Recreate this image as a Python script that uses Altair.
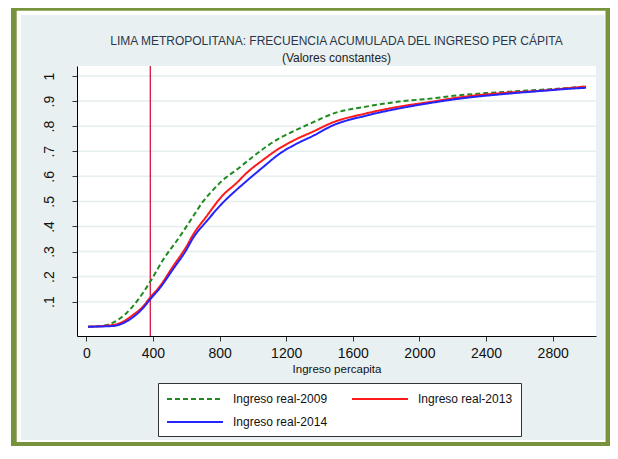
import altair as alt
import pandas as pd

# ---------------- data ----------------
series_names = ["Ingreso real-2009", "Ingreso real-2013", "Ingreso real-2014"]

x_2009 = [10, 100, 160, 240, 310, 384, 460, 560, 640, 700, 760, 820, 900, 1000,
          1080, 1160, 1260, 1360, 1480, 1680, 1880, 2080, 2220, 2400, 2600, 2800, 3000]
y_2009 = [0.0, 0.004, 0.016, 0.054, 0.107, 0.18, 0.266, 0.359, 0.439, 0.499, 0.545,
          0.585, 0.625, 0.678, 0.718, 0.752, 0.785, 0.815, 0.85, 0.878, 0.898, 0.911,
          0.922, 0.932, 0.94, 0.948, 0.958]

x_2013 = [10, 160, 220, 280, 340, 380, 440, 520, 600, 640, 720, 820, 900, 960,
          1060, 1160, 1260, 1360, 1480, 1680, 1880, 2080, 2220, 2520, 2720, 2920, 3000]
y_2013 = [0.0, 0.007, 0.02, 0.047, 0.08, 0.114, 0.16, 0.24, 0.319, 0.366, 0.439,
          0.525, 0.572, 0.612, 0.665, 0.712, 0.748, 0.778, 0.815, 0.851, 0.878, 0.898,
          0.913, 0.933, 0.941, 0.953, 0.958]

x_2014 = [10, 160, 220, 280, 340, 380, 440, 520, 600, 640, 720, 820, 900, 960,
          1060, 1160, 1260, 1360, 1480, 1680, 1880, 2080, 2220, 2520, 2720, 2920, 3000]
y_2014 = [0.0, 0.003, 0.014, 0.038, 0.074, 0.107, 0.153, 0.229, 0.306, 0.353, 0.419,
          0.495, 0.545, 0.58, 0.636, 0.69, 0.729, 0.761, 0.803, 0.842, 0.871, 0.894,
          0.908, 0.929, 0.94, 0.95, 0.953]

poverty_line = [384]
y_grid = [0.1, 0.2, 0.3, 0.4, 0.5, 0.6, 0.7, 0.8, 0.9, 1.0]
x_ticks = [0, 400, 800, 1200, 1600, 2000, 2400, 2800]

title_text = "LIMA METROPOLITANA: FRECUENCIA ACUMULADA DEL INGRESO PER CÁPITA"
subtitle_text = "(Valores constantes)"
x_title = "Ingreso percapita"

# ---------------- styling ----------------
FONT = "Liberation Sans"
W, H = 519, 270
PAD = {"left": 69, "top": 58, "right": 14, "bottom": 110}
BG = "#e8f0f2"
FRAME = "#77933c"
colors = ["#1f8a1f", "#ff1a1a", "#2424ff"]
dashes = [[5, 3], [1, 0], [1, 0]]

frames = []
for xs, ys, nm in [(x_2009, y_2009, series_names[0]),
                   (x_2013, y_2013, series_names[1]),
                   (x_2014, y_2014, series_names[2])]:
    frames.append(pd.DataFrame({"ingreso": xs, "frec": ys, "serie": nm}))
df = pd.concat(frames, ignore_index=True)

xscale = alt.Scale(domain=[-56, 3060], nice=False, zero=False)
yscale = alt.Scale(domain=[-0.037, 1.04], nice=False, zero=False)

x_axis = alt.Axis(values=x_ticks, title=x_title, grid=False, format="d",
                  zindex=1, labelPadding=5, titlePadding=3, labelOverlap=False)
y_axis = alt.Axis(values=y_grid, title=None, grid=False, zindex=1,
                  labelOverlap=False, tickCount=10,
                  labelExpr="datum.value > 0.99 ? '1' : replace(format(datum.value, '.1f'), '0.', '.')",
                  labelAngle=270, labelAlign="center", labelBaseline="bottom",
                  labelPadding=16)

one = pd.DataFrame({"k": [0]})


def box(x1, x2, y1, y2, color):
    return alt.Chart(one).mark_rect(color=color, opacity=1).encode(
        x=alt.value(x1), x2=alt.value(x2), y=alt.value(y1), y2=alt.value(y2)
    )


frame_layers = [
    box(-66, 533, -58, 380, FRAME),
    box(-60.3, 528.5, -55.3, 376, "white"),
    box(-56, 527.5, -51, 374, BG),
    box(0, W, 0, H, "white"),
]

title_mark = alt.Chart(one).mark_text(
    text=title_text, font=FONT, fontSize=12, color="#2b3648",
    align="center", baseline="middle",
).encode(x=alt.value(W / 2), y=alt.value(-25))

subtitle_mark = alt.Chart(one).mark_text(
    text=subtitle_text, font=FONT, fontSize=12, color="#222",
    align="center", baseline="middle",
).encode(x=alt.value(W / 2), y=alt.value(-8))

grid = alt.Chart(pd.DataFrame({"g": y_grid})).mark_rule(
    color="#e6eef0", strokeWidth=1.5
).encode(y=alt.Y("g:Q", scale=yscale, axis=y_axis))

vline = alt.Chart(pd.DataFrame({"p": poverty_line})).mark_rule(
    color="#d8143c", strokeWidth=1.3
).encode(x=alt.X("p:Q", scale=xscale, axis=x_axis))

legend = alt.Legend(
    title=None, orient="none", legendX=81, legendY=317, columns=2,
    direction="horizontal",
    symbolType="M-4,0H4", symbolSize=196, symbolStrokeWidth=2,
    symbolOffset=21, labelOffset=30,
    labelFont=FONT, labelFontSize=12, labelColor="#111",
    padding=8, strokeColor="#333", fillColor="white",
    columnPadding=20, rowPadding=9, labelLimit=300,
)

lines = alt.Chart(df).mark_line(strokeWidth=2, interpolate="monotone").encode(
    x=alt.X("ingreso:Q", scale=xscale, axis=x_axis),
    y=alt.Y("frec:Q", scale=yscale, axis=y_axis),
    color=alt.Color("serie:N", scale=alt.Scale(domain=series_names, range=colors), legend=legend),
    strokeDash=alt.StrokeDash("serie:N", scale=alt.Scale(domain=series_names, range=dashes), legend=legend),
)

chart = alt.layer(*frame_layers, title_mark, subtitle_mark, grid, vline, lines).properties(
    width=W, height=H,
    padding=PAD,
    autosize=alt.AutoSizeParams(type="none"),
    background="white",
).configure_view(stroke=None, fill="white").configure_axis(
    labelFont=FONT, labelFontSize=14, labelColor="#111",
    titleFont=FONT, titleFontSize=11.5, titleFontWeight="normal", titleColor="#111",
    domainColor="#000", domainWidth=1, tickColor="#333", tickSize=5,
).configure_axisY(labelOverlap=False)

chart.save("out.html", embed_options={"renderer": "svg", "actions": False})
